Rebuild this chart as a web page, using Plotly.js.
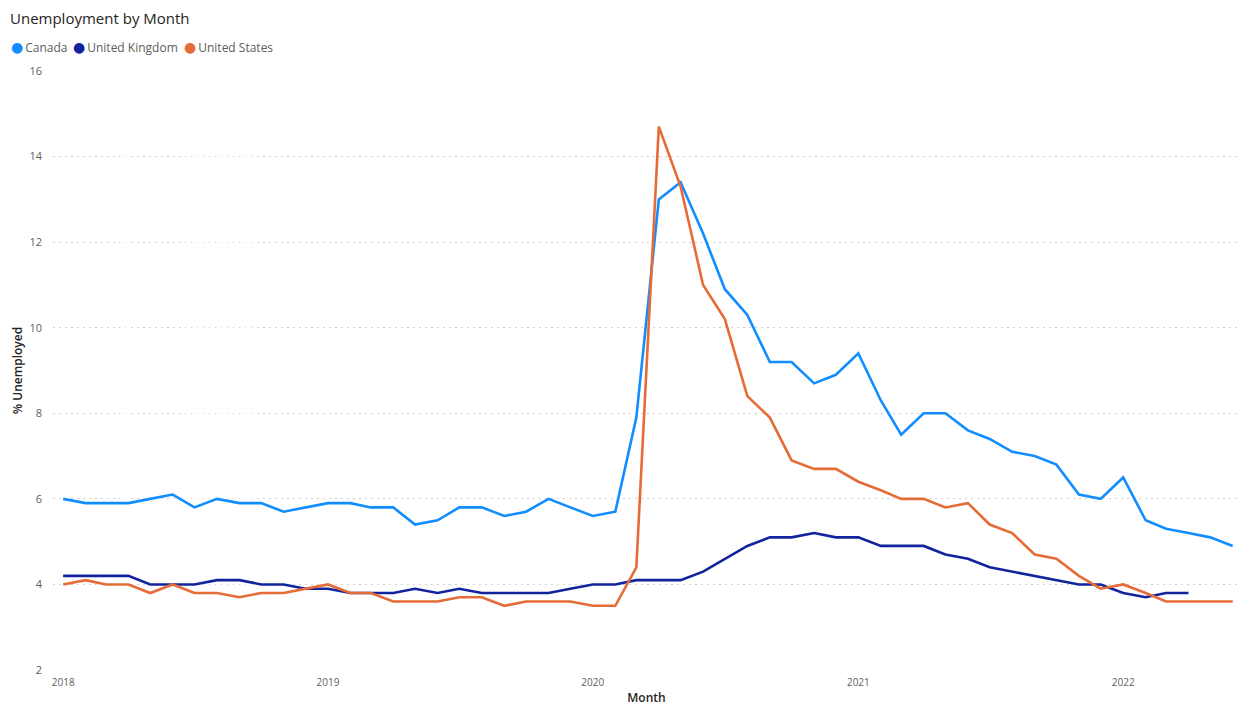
<!DOCTYPE html>
<html>
<head>
<meta charset="utf-8">
<script src="https://cdn.plot.ly/plotly-3.0.1.min.js"></script>
<style>
  html, body { margin: 0; padding: 0; background: #ffffff; }
  #chart { width: 1244px; height: 706px; }
</style>
</head>
<body>
<div id="chart"></div>
<script>
// Monthly unemployment rate (%), Jan 2018 – Jun 2022
const months = [
  "2018-01-01","2018-02-01","2018-03-01","2018-04-01","2018-05-01","2018-06-01",
  "2018-07-01","2018-08-01","2018-09-01","2018-10-01","2018-11-01","2018-12-01",
  "2019-01-01","2019-02-01","2019-03-01","2019-04-01","2019-05-01","2019-06-01",
  "2019-07-01","2019-08-01","2019-09-01","2019-10-01","2019-11-01","2019-12-01",
  "2020-01-01","2020-02-01","2020-03-01","2020-04-01","2020-05-01","2020-06-01",
  "2020-07-01","2020-08-01","2020-09-01","2020-10-01","2020-11-01","2020-12-01",
  "2021-01-01","2021-02-01","2021-03-01","2021-04-01","2021-05-01","2021-06-01",
  "2021-07-01","2021-08-01","2021-09-01","2021-10-01","2021-11-01","2021-12-01",
  "2022-01-01","2022-02-01","2022-03-01","2022-04-01","2022-05-01","2022-06-01"
];

const canada = [
  6.0, 5.9, 5.9, 5.9, 6.0, 6.1, 5.8, 6.0, 5.9, 5.9, 5.7, 5.8,
  5.9, 5.9, 5.8, 5.8, 5.4, 5.5, 5.8, 5.8, 5.6, 5.7, 6.0, 5.8,
  5.6, 5.7, 7.9, 13.0, 13.4, 12.2, 10.9, 10.3, 9.2, 9.2, 8.7, 8.9,
  9.4, 8.3, 7.5, 8.0, 8.0, 7.6, 7.4, 7.1, 7.0, 6.8, 6.1, 6.0,
  6.5, 5.5, 5.3, 5.2, 5.1, 4.9
];

// UK series stops at Apr 2022
const unitedKingdom = [
  4.2, 4.2, 4.2, 4.2, 4.0, 4.0, 4.0, 4.1, 4.1, 4.0, 4.0, 3.9,
  3.9, 3.8, 3.8, 3.8, 3.9, 3.8, 3.9, 3.8, 3.8, 3.8, 3.8, 3.9,
  4.0, 4.0, 4.1, 4.1, 4.1, 4.3, 4.6, 4.9, 5.1, 5.1, 5.2, 5.1,
  5.1, 4.9, 4.9, 4.9, 4.7, 4.6, 4.4, 4.3, 4.2, 4.1, 4.0, 4.0,
  3.8, 3.7, 3.8, 3.8
];

const unitedStates = [
  4.0, 4.1, 4.0, 4.0, 3.8, 4.0, 3.8, 3.8, 3.7, 3.8, 3.8, 3.9,
  4.0, 3.8, 3.8, 3.6, 3.6, 3.6, 3.7, 3.7, 3.5, 3.6, 3.6, 3.6,
  3.5, 3.5, 4.4, 14.7, 13.3, 11.0, 10.2, 8.4, 7.9, 6.9, 6.7, 6.7,
  6.4, 6.2, 6.0, 6.0, 5.8, 5.9, 5.4, 5.2, 4.7, 4.6, 4.2, 3.9,
  4.0, 3.8, 3.6, 3.6, 3.6, 3.6
];

const seriesNames = ["Canada", "United Kingdom", "United States"];
const seriesColors = ["#118DFF", "#12239E", "#E66C37"];
const seriesValues = [canada, unitedKingdom, unitedStates];

const yTicks = [2, 4, 6, 8, 10, 12, 14, 16];

const FONT = "'Open Sans', 'Noto Sans', 'DejaVu Sans', sans-serif";
const W = 1244, H = 706;
const M = { l: 53, r: 4, t: 71, b: 36 };

const traces = seriesValues.map((vals, i) => ({
  type: "scatter",
  mode: "lines",
  name: seriesNames[i],
  x: months.slice(0, vals.length),
  y: vals,
  line: { color: seriesColors[i], width: 2.6 },
  showlegend: false,
  hoverinfo: "x+y+name"
}));

// Legend row: coloured dot + series name, laid out left to right
const legendX = [9, 71, 182];
const legendAnnotations = seriesNames.map((name, i) => ({
  xref: "paper", yref: "paper",
  x: (legendX[i] - M.l) / (W - M.l - M.r),
  y: 1 + (M.t - 47) / (H - M.t - M.b),
  xanchor: "left", yanchor: "middle",
  showarrow: false,
  text: '<span style="color:' + seriesColors[i] + ';font-size:14px">●</span>\u2009' + name,
  font: { family: FONT, size: 12, color: "#605E5C" }
}));

const layout = {
  width: W, height: H,
  margin: M,
  paper_bgcolor: "#ffffff",
  plot_bgcolor: "#ffffff",
  font: { family: FONT, color: "#605E5C" },
  showlegend: false,
  title: {
    text: "Unemployment by Month",
    xref: "container", yref: "container",
    x: 10 / W, xanchor: "left",
    y: 1 - 19 / H, yanchor: "middle",
    font: { family: FONT, size: 15, color: "#252423" }
  },
  xaxis: {
    type: "date",
    range: ["2017-12-18", "2022-06-11"],
    dtick: "M12",
    tick0: "2018-01-01",
    tickformat: "%Y",
    showgrid: false,
    zeroline: false,
    showline: false,
    ticks: "",
    ticklabelstandoff: 5,
    tickfont: { family: FONT, size: 10, color: "#605E5C" },
    title: {
      text: "Month",
      standoff: 8,
      font: { family: FONT, size: 12, color: "#252423", weight: 600 }
    }
  },
  yaxis: {
    range: [2, 16],
    tickvals: yTicks,
    ticktext: yTicks.map(String),
    showgrid: true,
    gridcolor: "#D2D0CE",
    gridwidth: 1,
    griddash: "1.5px,4.5px",
    zeroline: false,
    showline: false,
    ticks: "",
    ticklabelstandoff: 10,
    tickfont: { family: FONT, size: 11, color: "#605E5C" },
    title: {
      text: "% Unemployed",
      standoff: 4,
      font: { family: FONT, size: 12, color: "#252423", weight: 600 }
    }
  },
  annotations: legendAnnotations
};

Plotly.newPlot("chart", traces, layout, { displayModeBar: false, staticPlot: false });
</script>
</body>
</html>
